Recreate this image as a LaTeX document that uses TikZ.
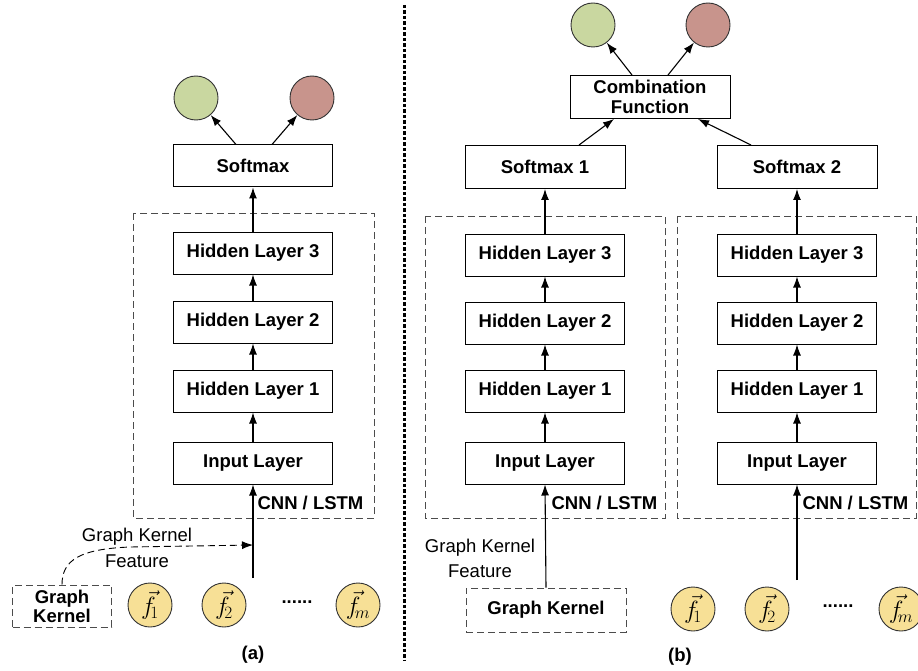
\documentclass[tikz,border=0pt]{standalone}
\usepackage{fontspec}
\setmainfont{Liberation Sans}
\usetikzlibrary{arrows.meta}
\definecolor{cgreen}{RGB}{201,215,160}
\definecolor{cred}{RGB}{200,148,140}
\definecolor{cyel}{RGB}{247,224,150}
\begin{document}
\begin{tikzpicture}[x=1pt,y=-1pt,
  font=\fontsize{18.5}{21}\selectfont,
  layer/.style={draw,line width=1pt,minimum width=159pt,minimum height=42pt,font=\fontsize{18.5}{21}\selectfont\bfseries},
  grp/.style={draw=black!70,line width=0.9pt,dash pattern=on 7pt off 4pt},
  outc/.style={circle,draw=black!80,line width=0.9pt,minimum size=44pt,inner sep=0pt},
  fc/.style={circle,draw=black!80,line width=0.9pt,fill=cyel,minimum size=44pt,inner sep=0pt,font=\fontsize{24}{26}\selectfont},
  arr/.style={-{Latex[length=11pt,width=8pt]},line width=1.1pt},
  lbl/.style={font=\fontsize{18.5}{21}\selectfont\bfseries,anchor=west},
  txt/.style={align=center,font=\fontsize{18.5}{21}\selectfont}
]
\useasboundingbox (0,0) rectangle (918,671);

% divider
\draw[line width=3pt,dash pattern=on 3.5pt off 2pt] (404,5) -- (404,660);

% ---------- (a) ----------
\draw[grp] (133,213) rectangle (374,518);
\node[outc,fill=cgreen] (ga) at (196,98) {};
\node[outc,fill=cred] (ra) at (312,98) {};
\node[layer] (sa) at (253,166) {Softmax};
\node[layer] (h3a) at (253,253) {Hidden Layer 3};
\node[layer] (h2a) at (253,322) {Hidden Layer 2};
\node[layer] (h1a) at (253,391) {Hidden Layer 1};
\node[layer] (ia) at (253,463) {Input Layer};
\node[lbl] (cla) at (254,503) {CNN / LSTM};
\coordinate (sra) at (253,578);
\coordinate (gkfa) at (253,545);
\node[grp,minimum width=99pt,minimum height=42pt,align=center,inner sep=1pt,font=\fontsize{18.5}{21}\selectfont\bfseries] (gka) at (62,606) {Graph\\[-2pt]Kernel};
\node[txt] (gkla) at (137,537) {Graph Kernel};
\node[txt] (gkla2) at (137,561) {Feature};
\node[fc] (f1a) at (150,605) {$\vec{f}_{\!1}$};
\node[fc] (f2a) at (224,605) {$\vec{f}_{\!2}$};
\node[fc] (fma) at (358,605) {$\vec{f}_{\!m}$};
\node (dotsa) at (297,602) {\textbf{......}};
\node[font=\fontsize{18.5}{21}\selectfont\bfseries] (capa) at (253,655) {(a)};

\draw[arr] ([xshift=-17pt]sa.north) -- (ga);
\draw[arr] ([xshift=19pt]sa.north) -- (ra);
\draw[arr] (h3a.north) -- (sa.south);
\draw[arr] (h2a.north) -- (h3a.south);
\draw[arr] (h1a.north) -- (h2a.south);
\draw[arr] (ia.north) -- (h1a.south);
\draw[arr] (sra) -- (ia.south);
\draw[arr,dash pattern=on 7pt off 4pt,line width=0.9pt] (gka.north) .. controls (62,560) and (80,549) .. (130,547) -- (gkfa);

% ---------- (b) ----------
\draw[grp] (425,216) rectangle (665,518);
\draw[grp] (677,216) rectangle (916,518);
\node[outc,fill=cgreen] (gb) at (593,25) {};
\node[outc,fill=cred] (rb) at (708,25) {};
\node[layer,minimum width=160pt,minimum height=43pt,align=center] (cf) at (650,97) {Combination\\[-1pt]Function};
\node[layer,minimum width=160pt,minimum height=43pt] (s1) at (545,167) {Softmax 1};
\node[layer,minimum width=160pt,minimum height=43pt] (s2) at (797,167) {Softmax 2};
\node[layer] (h3b) at (545,255) {Hidden Layer 3};
\node[layer] (h2b) at (545,323) {Hidden Layer 2};
\node[layer] (h1b) at (545,391) {Hidden Layer 1};
\node[layer] (ib) at (545,463) {Input Layer};
\node[layer] (h3c) at (797,255) {Hidden Layer 3};
\node[layer] (h2c) at (797,323) {Hidden Layer 2};
\node[layer] (h1c) at (797,391) {Hidden Layer 1};
\node[layer] (ic) at (797,463) {Input Layer};
\node[lbl] (clb) at (548,503) {CNN / LSTM};
\node[lbl] (clc) at (799,503) {CNN / LSTM};
\node[grp,minimum width=160pt,minimum height=44pt,font=\fontsize{18.5}{21}\selectfont\bfseries] (gkb) at (546,610) {Graph Kernel};
\node[txt] (gklb) at (480,548) {Graph Kernel};
\node[txt] (gklb2) at (480,571) {Feature};
\coordinate (src) at (797,580);
\node[fc] (f1b) at (693,609) {$\vec{f}_{\!1}$};
\node[fc] (f2b) at (767,609) {$\vec{f}_{\!2}$};
\node[fc] (fmb) at (901,609) {$\vec{f}_{\!m}$};
\node (dotsb) at (838,606) {\textbf{......}};
\node[font=\fontsize{18.5}{21}\selectfont\bfseries] (capb) at (680,657) {(b)};

\draw[arr] ([xshift=-18pt]cf.north) -- (gb);
\draw[arr] ([xshift=18pt]cf.north) -- (rb);
\draw[arr] ([xshift=34pt]s1.north) -- ([xshift=-36pt]cf.south);
\draw[arr] ([xshift=-46pt]s2.north) -- ([xshift=48pt]cf.south);
\draw[arr] (h3b.north) -- (s1.south);
\draw[arr] (h2b.north) -- (h3b.south);
\draw[arr] (h1b.north) -- (h2b.south);
\draw[arr] (ib.north) -- (h1b.south);
\draw[arr] (gkb.north) -- (ib.south);
\draw[arr] (h3c.north) -- (s2.south);
\draw[arr] (h2c.north) -- (h3c.south);
\draw[arr] (h1c.north) -- (h2c.south);
\draw[arr] (ic.north) -- (h1c.south);
\draw[arr] (src) -- (ic.south);
\end{tikzpicture}
\end{document}
